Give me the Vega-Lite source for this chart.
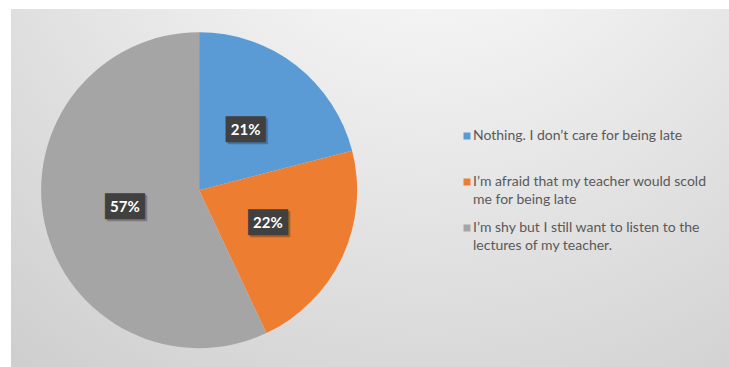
{
  "$schema": "https://vega.github.io/schema/vega-lite/v6.json",
  "width": 718,
  "height": 358,
  "autosize": "none",
  "padding": {"left": 11, "top": 9, "right": 0, "bottom": 0},
  "background": "white",
  "config": {"view": {"stroke": null}},
  "data": {
    "values": [
      {"response": "Nothing. I don’t care for being late| ", "pct": 21, "label": "21%"},
      {"response": "\u00a0I’m afraid that my teacher would scold|me for being late", "pct": 22, "label": "22%"},
      {"response": "I’m shy but I still want to listen to the|lectures of my teacher.", "pct": 57, "label": "57%"}
    ]
  },
  "layer": [
    {
      "data": {"values": [{"panel": "background"}]},
      "mark": {
        "type": "rect",
        "color": {
          "gradient": "radial",
          "x1": 0.58, "y1": 0.0, "r1": 0,
          "x2": 0.58, "y2": 0.0, "r2": 1.0,
          "stops": [
            {"offset": 0, "color": "#ffffff"},
            {"offset": 0.22, "color": "#f5f5f5"},
            {"offset": 1, "color": "#cbcbcb"}
          ]
        }
      },
      "encoding": {}
    },
    {
      "mark": {"type": "arc", "x": {"expr": "width*0.262"}, "y": {"expr": "height*0.506"}, "outerRadius": 158},
      "encoding": {
        "theta": {"field": "pct", "type": "quantitative", "stack": true},
        "order": {"field": "pct", "type": "quantitative", "sort": "ascending"},
        "color": {
          "field": "response",
          "type": "nominal",
          "sort": null,
          "scale": {
            "domain": [
              "Nothing. I don’t care for being late| ",
              "\u00a0I’m afraid that my teacher would scold|me for being late",
              "I’m shy but I still want to listen to the|lectures of my teacher."
            ],
            "range": ["#5B9BD5", "#ED7D31", "#A5A5A5"]
          },
          "legend": {
            "title": null,
            "orient": "none",
            "legendX": 449,
            "legendY": 120,
            "symbolType": "square",
            "symbolSize": 49,
            "symbolStrokeWidth": 0,
            "labelFont": "Lato",
            "labelFontSize": 14,
            "labelColor": "#595959",
            "labelLimit": 320,
            "labelBaseline": "top",
            "labelOffset": -1,
            "rowPadding": 14,
            "labelExpr": "split(datum.label, '|')",
            "encode": {
              "labels": {"update": {"lineHeight": {"value": 18}, "dy": {"value": -7}}}
            }
          }
        }
      }
    },
    {
      "mark": {"type": "text", "x": {"expr": "width*0.262+2"}, "y": {"expr": "height*0.506+2"}, "radius": 76, "text": "███", "font": "DejaVu Sans Mono", "fontSize": 22, "color": "#000000", "opacity": 0.25, "baseline": "middle", "align": "center"},
      "encoding": {
        "theta": {"field": "pct", "type": "quantitative", "stack": true},
        "order": {"field": "pct", "type": "quantitative", "sort": "ascending"},
        "detail": {"field": "response", "type": "nominal"}
      }
    },
    {
      "mark": {"type": "text", "x": {"expr": "width*0.262"}, "y": {"expr": "height*0.506"}, "radius": 76, "text": "███", "font": "DejaVu Sans Mono", "fontSize": 22, "color": "#404040", "baseline": "middle", "align": "center"},
      "encoding": {
        "theta": {"field": "pct", "type": "quantitative", "stack": true},
        "order": {"field": "pct", "type": "quantitative", "sort": "ascending"},
        "detail": {"field": "response", "type": "nominal"}
      }
    },
    {
      "mark": {"type": "text", "x": {"expr": "width*0.262"}, "y": {"expr": "height*0.506"}, "radius": 76, "font": "Lato", "fontSize": 15, "fontWeight": "bold", "color": "#ffffff", "baseline": "middle", "align": "center"},
      "encoding": {
        "theta": {"field": "pct", "type": "quantitative", "stack": true},
        "order": {"field": "pct", "type": "quantitative", "sort": "ascending"},
        "detail": {"field": "response", "type": "nominal"},
        "text": {"field": "label", "type": "nominal"}
      }
    }
  ]
}
